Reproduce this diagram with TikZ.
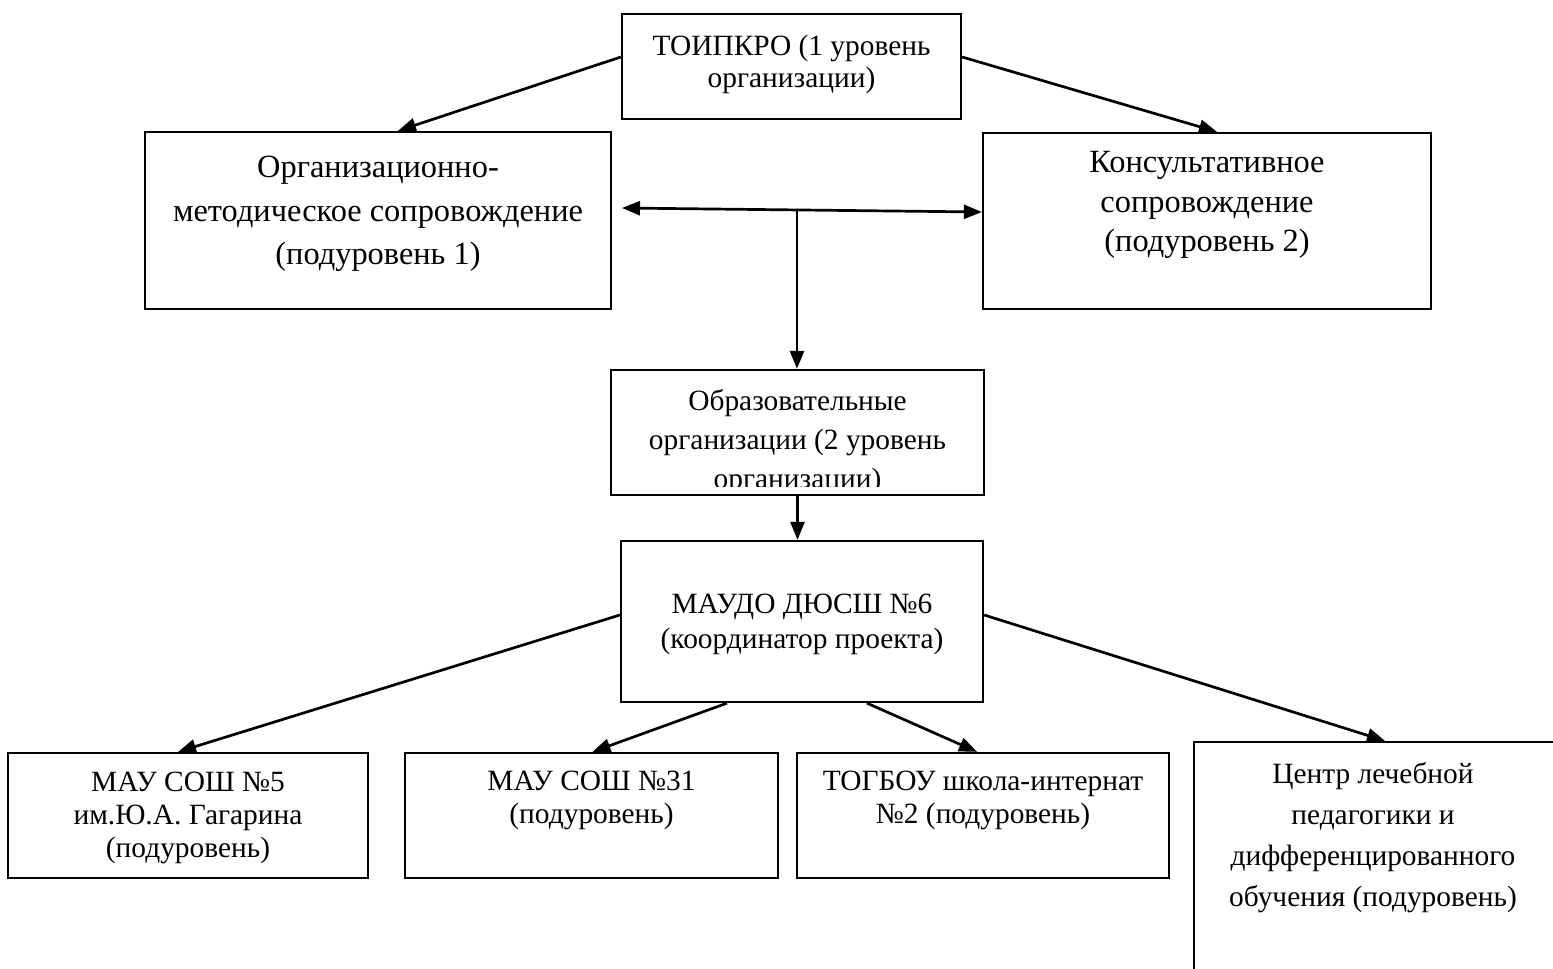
\documentclass[tikz,border=0pt]{standalone}
\usepackage{fontspec}
\setmainfont{Liberation Serif}
\usetikzlibrary{arrows.meta, positioning}

\newcommand{\lsk}[2][14.7]{\fontsize{#1}{#2}\selectfont}

\begin{document}
\begin{tikzpicture}[
  x=0.5pt, y=-0.5pt,
  box/.style={draw, line width=1.15pt, inner sep=0pt},
  lbl/.style={align=center, inner sep=0pt},
  arr/.style={-{Triangle[length=9pt, width=7pt]}, line width=1.35pt},
  darr/.style={{Triangle[length=9pt, width=7pt]}-{Triangle[length=9pt, width=7pt]}, line width=1.35pt},
]
\useasboundingbox (0,0) rectangle (1553,969);

% level 1
\node[box, minimum width=169.5pt, minimum height=52.5pt] (toi) at (791.5,66.5) {};
\node[lbl, font={\lsk{16pt}}] (toi-t) at (791.5,64) {ТОИПКРО (1 уровень\\организации)};

% sublevels
\node[box, minimum width=233pt, minimum height=88.5pt] (orgmet) at (378,220.5) {};
\node[lbl, font={\lsk[16.2]{21.75pt}}] (orgmet-t) at (378,214) {Организационно-\\методическое сопровождение\\(подуровень 1)};
\node[box, minimum width=224pt, minimum height=88pt] (kons) at (1207,221) {};
\node[lbl, font={\lsk[16.2]{19.75pt}}] (kons-t) at (1207,205) {Консультативное\\сопровождение\\(подуровень 2)};

\coordinate (hub) at (797,210);
\coordinate (hubL) at (622,208);

% level 2
\node[box, minimum width=186.5pt, minimum height=62.5pt] (obr) at (797.5,432.5) {};
\begin{scope}
  \clip (611,370) rectangle (984,486);
  \node[lbl, font={\lsk{19.5pt}}] (obr-t) at (797.5,442) {Образовательные\\организации (2 уровень\\организации)};
\end{scope}

\node[box, minimum width=181pt, minimum height=80.5pt] (koord) at (802,621.5) {};
\node[lbl, font={\lsk{17.5pt}}] (koord-t) at (802,624) {МАУДО ДЮСШ №6\\(координатор проекта)};

% schools
\node[box, minimum width=180pt, minimum height=62.5pt] (s5) at (188,815.5) {};
\node[lbl, font={\lsk{16.5pt}}] (s5-t) at (188,818) {МАУ СОШ №5\\им.Ю.А. Гагарина\\(подуровень)};
\node[box, minimum width=186.5pt, minimum height=62.5pt] (s31) at (591.5,815.5) {};
\node[lbl, font={\lsk{16.5pt}}] (s31-t) at (591.5,800) {МАУ СОШ №31\\(подуровень)};
\node[box, minimum width=186pt, minimum height=62.5pt] (togbou) at (983,815.5) {};
\node[lbl, font={\lsk{16.5pt}}] (togbou-t) at (983,800) {ТОГБОУ школа-интернат\\№2 (подуровень)};
\node[box, minimum width=191pt, minimum height=130pt] (centr) at (1385,872) {};
\node[lbl, font={\lsk{20.5pt}}] (centr-t) at (1373,838) {Центр лечебной\\педагогики и\\дифференцированного\\обучения (подуровень)};

\draw[arr] ([yshift=4.75pt]toi.west) -- ([xshift=10pt]orgmet.north);
\draw[arr] ([yshift=4.75pt]toi.east) -- ([xshift=5pt]kons.north);
\draw[darr] (hubL) -- ([yshift=4.5pt]kons.west);
\draw[arr] (hub) -- (hub |- obr.north);
\draw[arr] (obr.south) -- (obr.south |- koord.north);
\draw[arr] ([yshift=3.25pt]koord.west) -- ([xshift=-5pt]s5.north);
\draw[arr] ([xshift=-37.5pt]koord.south) -- ([xshift=0.5pt]s31.north);
\draw[arr] ([xshift=32.5pt]koord.south) -- ([xshift=-3pt]togbou.north);
\draw[arr] ([yshift=3.25pt]koord.east) -- (centr.north);
\end{tikzpicture}
\end{document}
